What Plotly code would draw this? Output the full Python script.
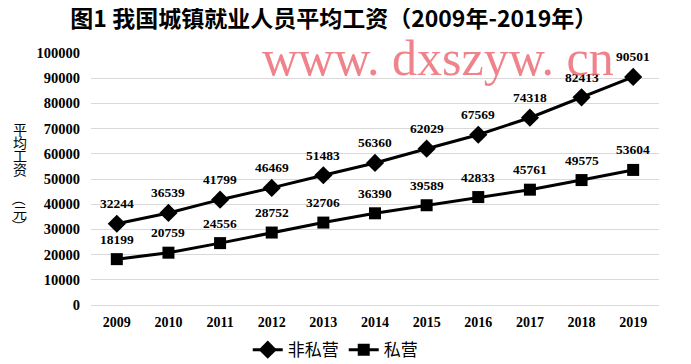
import plotly.graph_objects as go

years = [2009, 2010, 2011, 2012, 2013, 2014, 2015, 2016, 2017, 2018, 2019]
non_private = [32244, 36539, 41799, 46469, 51483, 56360, 62029, 67569, 74318, 82413, 90501]
private = [18199, 20759, 24556, 28752, 32706, 36390, 39589, 42833, 45761, 49575, 53604]
y_title_chars = ["平", "均", "工", "资", "（", "元", "）"]

num_font = "'Liberation Serif', 'Noto Sans CJK SC', serif"
cjk_font = "'Noto Sans CJK SC', serif"

fig = go.Figure()
fig.add_trace(go.Scatter(
    x=years, y=non_private, name="非私营", mode="lines+markers",
    line=dict(color="black", width=3),
    marker=dict(symbol="diamond", size=14, color="black"),
))
fig.add_trace(go.Scatter(
    x=years, y=private, name="私营", mode="lines+markers",
    line=dict(color="black", width=3),
    marker=dict(symbol="square", size=12, color="black"),
))

annotations = []
for vals in (non_private, private):
    for x, v in zip(years, vals):
        annotations.append(dict(
            x=x, y=v, text=f"<b>{v}</b>", showarrow=False, yshift=20,
            font=dict(family=num_font, size=13.5, color="black"),
        ))

# vertical y-axis title, one glyph per annotation (pixel offsets from centre);
# brackets are rotated like in vertical CJK typesetting
char_offsets = [50, 37, 24, 10, -20, -33, -47]
for ch, off in zip(y_title_chars, char_offsets):
    annotations.append(dict(
        xref="paper", yref="paper", x=-0.125, xanchor="center", y=0.5,
        yanchor="middle", yshift=off,
        text=ch, showarrow=False,
        textangle=90 if ch in "（）" else 0,
        font=dict(family=cjk_font, size=14, color="black"),
    ))

annotations.append(dict(
    xref="paper", yref="paper", x=0.611, xanchor="center", y=0.98, yanchor="middle",
    text="www. dxszyw. cn", showarrow=False,
    font=dict(family="'Liberation Serif', serif", size=50, color="rgba(235,95,105,0.78)"),
))

fig.update_layout(
    width=683, height=356,
    paper_bgcolor="white", plot_bgcolor="white",
    margin=dict(l=83, r=32, t=45, b=59, autoexpand=False),
    showlegend=True,
    title=dict(
        text="<b>图1 我国城镇就业人员平均工资（2009年-2019年）</b>",
        x=0.477, xanchor="center", y=0.968, yref="container", yanchor="middle",
        font=dict(family=cjk_font, size=23, color="black"),
    ),
    xaxis=dict(
        range=[2008.5, 2019.5], dtick=1, tick0=2009, showgrid=False, zeroline=False,
        showline=True, linecolor="#d9d9d9", linewidth=1, ticks="", tickformat="d",
        tickfont=dict(family=num_font, size=14, color="black"),
        tickprefix="<b>", ticksuffix="</b>", ticklabelstandoff=4,
    ),
    yaxis=dict(
        range=[0, 100000], dtick=10000, showgrid=True, gridcolor="#d9d9d9",
        zeroline=False, ticks="", tickformat="d",
        tickfont=dict(family=num_font, size=14.5, color="black"),
        tickprefix="<b>", ticksuffix="</b>", ticklabelstandoff=10,
    ),
    legend=dict(
        orientation="h", x=0.43, xanchor="center", y=-0.179, yanchor="middle",
        font=dict(family=cjk_font, size=17, color="black"),
        itemwidth=30, tracegroupgap=0,
    ),
    annotations=annotations,
)

fig.write_html("out.html")
